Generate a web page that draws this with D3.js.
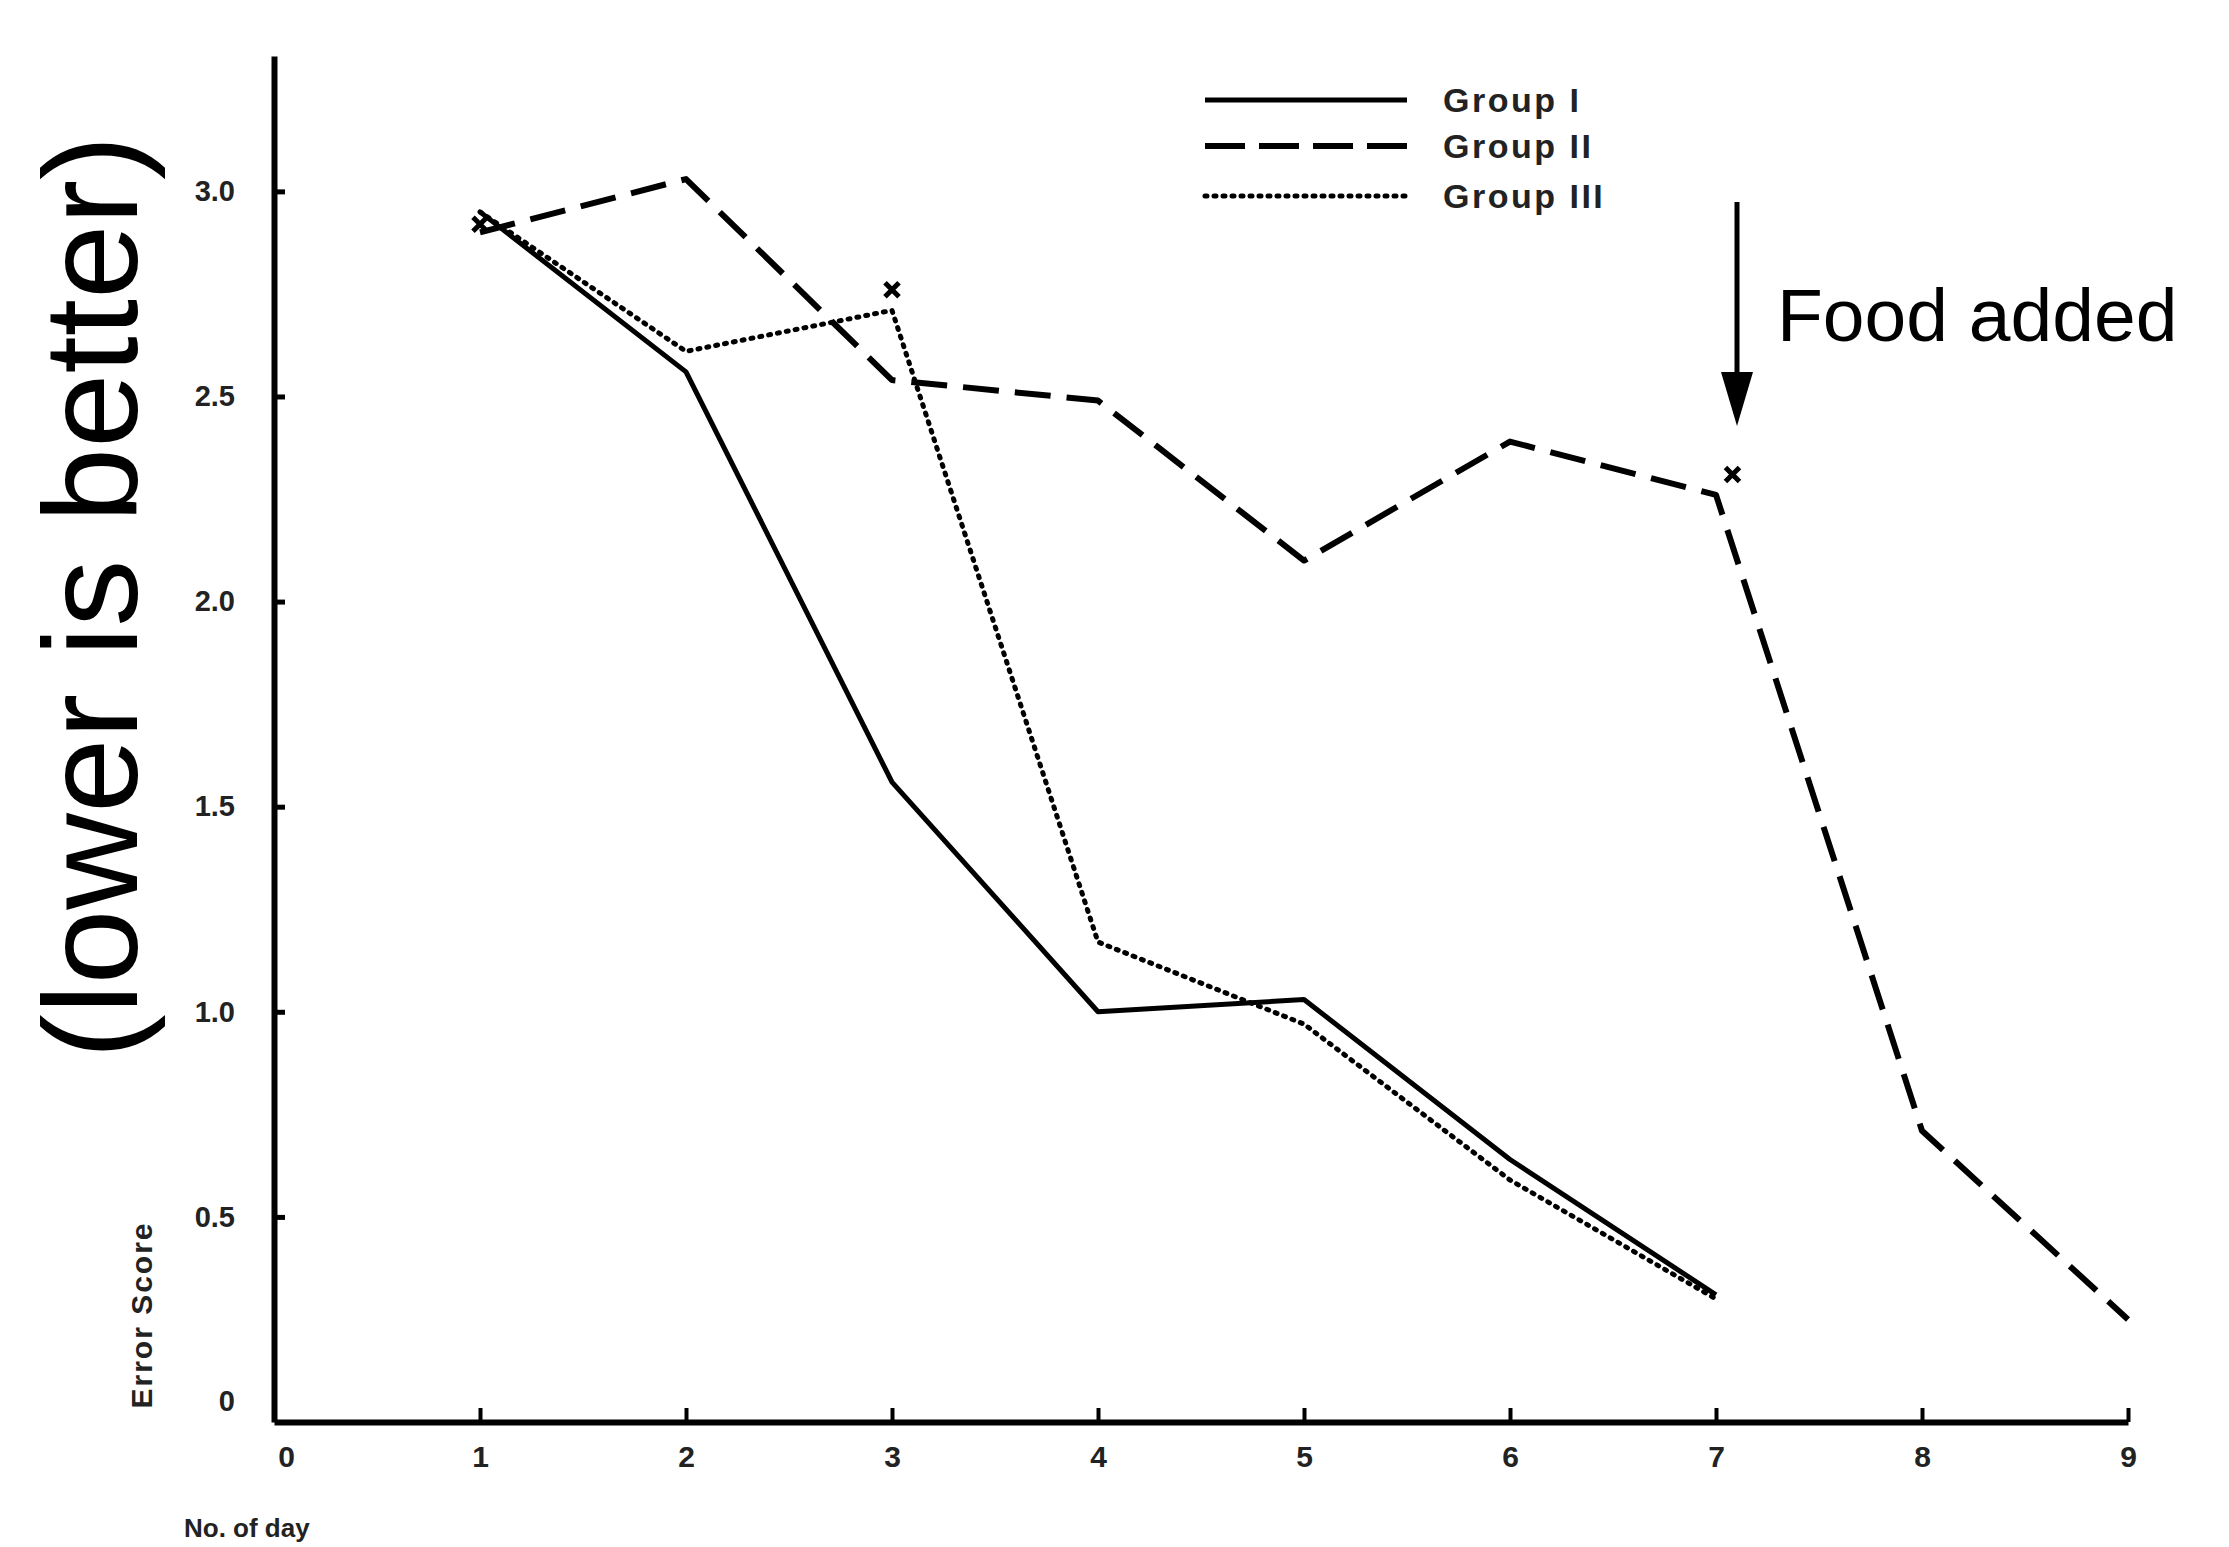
<!DOCTYPE html>
<html>
<head>
<meta charset="utf-8">
<script src="https://cdn.jsdelivr.net/npm/d3@7"></script>
<style>
  html, body { margin: 0; padding: 0; background: #fff; }
  svg { display: block; }
</style>
</head>
<body>
<svg id="chart" width="2229" height="1547"></svg>
<script>
// ---- data ----
const days = [1, 2, 3, 4, 5, 6, 7, 8, 9];
const group1 = [2.95, 2.56, 1.56, 1.00, 1.03, 0.64, 0.31];
const group2 = [2.90, 3.03, 2.54, 2.49, 2.10, 2.39, 2.26, 0.71, 0.25];
const group3 = [2.95, 2.61, 2.71, 1.17, 0.97, 0.59, 0.30];
const seriesNames = ["Group I", "Group II", "Group III"];
const xTicks = [0, 1, 2, 3, 4, 5, 6, 7, 8, 9];
const yTicks = [0, 0.5, 1.0, 1.5, 2.0, 2.5, 3.0];
const markerDays = [1, 3, 7.08];
const markerValues = [2.92, 2.76, 2.31];
const annotationText = "Food added";
const sideNote = "(lower is better)";

// ---- layout ----
const svg = d3.select("#chart");
const x = d3.scaleLinear().domain([0, 9]).range([274, 2128]);
const y = d3.scaleLinear().domain([0, 3.33]).range([1422, 56]);

const labelFont = "'Liberation Sans', Arial, Helvetica, sans-serif";

// axes
const yAxis = d3.axisLeft(y)
  .tickValues(yTicks)
  .tickFormat(d => d === 0 ? "0" : d3.format(".1f")(d))
  .tickSizeInner(-11).tickSizeOuter(0).tickPadding(39);
const gy = svg.append("g").attr("transform", `translate(${x(0)},0)`).call(yAxis);
gy.select(".domain").attr("stroke", "#000").attr("stroke-width", 6);
gy.selectAll(".tick line").attr("stroke", "#000").attr("stroke-width", 5);
gy.selectAll(".tick text")
  .attr("font-family", labelFont).attr("font-weight", "bold").attr("font-size", 29)
  .attr("fill", "#222");
gy.selectAll(".tick").filter(d => d === 0).select("text").attr("dy", "-0.4em");
gy.selectAll(".tick").filter(d => d === 0).select("line").remove();

const xAxis = d3.axisBottom(x)
  .tickValues(xTicks)
  .tickFormat(d3.format("d"))
  .tickSizeInner(-14).tickSizeOuter(0).tickPadding(24);
const gx = svg.append("g").attr("transform", `translate(0,${y(0)})`).call(xAxis);
gx.select(".domain").attr("stroke", "#000").attr("stroke-width", 6);
gx.selectAll(".tick line").attr("stroke", "#000").attr("stroke-width", 4);
gx.selectAll(".tick").filter(d => d === 0).select("line").remove();
gx.selectAll(".tick").filter(d => d === 0).select("text").attr("dx", 12);
gx.selectAll(".tick text")
  .attr("font-family", labelFont).attr("font-weight", "bold").attr("font-size", 30)
  .attr("fill", "#222");
gx.attr("font-family", null);
gy.attr("font-family", null);

// axis titles
svg.append("text")
  .attr("transform", `translate(152,1315) rotate(-90)`)
  .attr("text-anchor", "middle")
  .attr("font-family", labelFont).attr("font-weight", "bold").attr("font-size", 30)
  .attr("letter-spacing", 2)
  .attr("fill", "#222")
  .text("Error Score");
svg.append("text")
  .attr("x", 184).attr("y", 1537)
  .attr("font-family", labelFont).attr("font-weight", "bold").attr("font-size", 26)
  .attr("fill", "#222")
  .text("No. of day");

// lines
const line = d3.line().x((d, i) => x(days[i])).y(d => y(d));
const styles = [
  { data: group1, dash: null, width: 5, cap: "butt" },
  { data: group2, dash: "36,16", width: 6, cap: "butt" },
  { data: group3, dash: "2,7", width: 5, cap: "round" }
];
styles.forEach(s => {
  svg.append("path")
    .datum(s.data)
    .attr("d", line)
    .attr("fill", "none")
    .attr("stroke", "#000")
    .attr("stroke-width", s.width)
    .attr("stroke-dasharray", s.dash)
    .attr("stroke-linecap", s.cap)
    .attr("stroke-linejoin", "round");
});

// x markers
const sym = d3.symbol().type(d3.symbolX).size(130);
svg.selectAll("path.mk")
  .data(markerDays.map((d, i) => [d, markerValues[i]]))
  .join("path")
  .attr("class", "mk")
  .attr("transform", d => `translate(${x(d[0])},${y(d[1])})`)
  .attr("d", sym)
  .attr("fill", "none").attr("stroke", "#000").attr("stroke-width", 5);

// legend
const legX1 = 1205, legX2 = 1407, legY = [100, 146, 196];
seriesNames.forEach((name, i) => {
  svg.append("line")
    .attr("x1", legX1).attr("x2", legX2).attr("y1", legY[i]).attr("y2", legY[i])
    .attr("stroke", "#000")
    .attr("stroke-width", styles[i].width)
    .attr("stroke-dasharray", i === 1 ? "40,14" : styles[i].dash)
    .attr("stroke-linecap", styles[i].cap);
  svg.append("text")
    .attr("x", 1443).attr("y", legY[i] + 12)
    .attr("font-family", labelFont).attr("font-weight", "bold").attr("font-size", 34)
    .attr("letter-spacing", 2.5)
    .attr("fill", "#222")
    .text(name);
});

// annotation arrow
const ax = 1737;
svg.append("line")
  .attr("x1", ax).attr("x2", ax).attr("y1", 202).attr("y2", 380)
  .attr("stroke", "#000").attr("stroke-width", 5);
svg.append("path")
  .attr("d", `M${ax - 16},372 L${ax + 16},372 L${ax},426 Z`)
  .attr("fill", "#000");
svg.append("text")
  .attr("x", 1777).attr("y", 341)
  .attr("font-family", "'Liberation Sans', Arial, Helvetica, sans-serif")
  .attr("font-size", 75)
  .attr("fill", "#000")
  .text(annotationText);

// side note
svg.append("text")
  .attr("transform", `translate(137,597) rotate(-90)`)
  .attr("text-anchor", "middle")
  .attr("font-family", "'Liberation Sans', Arial, Helvetica, sans-serif")
  .attr("font-size", 134)
  .attr("fill", "#000")
  .text(sideNote);
</script>
</body>
</html>
